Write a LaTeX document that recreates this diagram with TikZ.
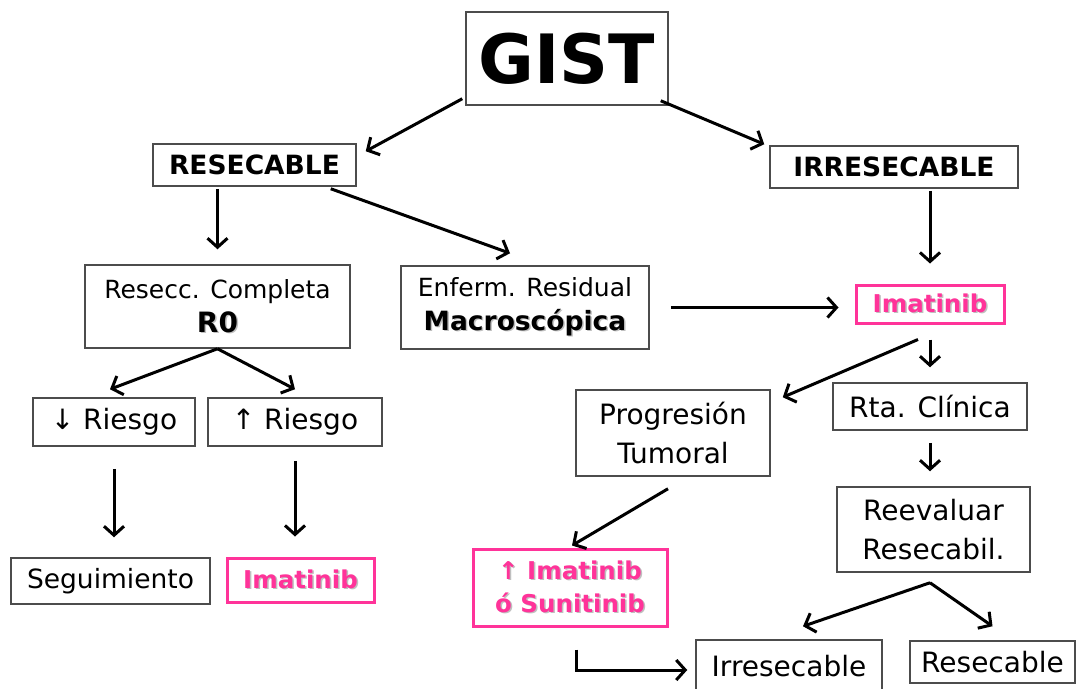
\documentclass[tikz,border=0pt]{standalone}
\usepackage{fontspec}
\setmainfont{DejaVu Sans}
\usetikzlibrary{arrows.meta}
\definecolor{rosa}{HTML}{FF3399}
% texto con sombra gris
\newcommand{\sombra}[1]{\leavevmode\rlap{\kern1.5pt\raisebox{-1.5pt}{\textcolor{black!25}{#1}}}#1}

\begin{document}
\begin{tikzpicture}[x=1pt,y=-1pt,
  caja/.style={draw=black!70,line width=1.5pt,inner sep=0pt,align=center},
  cajarosa/.style={draw=rosa,line width=3pt,inner sep=0pt,align=center,text=rosa,
    font=\bfseries\fontsize{24.5}{33}\selectfont},
  chico/.style={font=\fontsize{25}{37}\selectfont},
  grande/.style={font=\fontsize{28}{39}\selectfont},
  flecha/.style={line width=3pt,-{Straight Barb[length=9pt,width=20pt]}}]
  \useasboundingbox (0,0) rectangle (1084,688);

  % nivel 1 y 2
  \node[caja,minimum width=202pt,minimum height=93pt,font=\bfseries\fontsize{68}{68}\selectfont] (gist) at (567,58.5) {GIST};
  \node[caja,minimum width=203pt,minimum height=42pt,font=\bfseries\fontsize{26.5}{30}\selectfont] (res) at (254.5,165) {RESECABLE};
  \node[caja,minimum width=248pt,minimum height=42pt,font=\bfseries\fontsize{26.5}{30}\selectfont] (irr) at (894,167) {IRRESECABLE};

  % rama resecable
  \node[caja,chico,minimum width=265pt,minimum height=83pt] (rc) at (217.5,306.5)
    {Resecc. Completa\\[-3pt]{\bfseries\fontsize{28}{30}\selectfont\sombra{R0}}};
  \node[caja,chico,minimum width=248pt,minimum height=83pt] (er) at (525,307.5)
    {Enferm. Residual\\[-3pt]{\bfseries\fontsize{26.5}{30}\selectfont\sombra{Macroscópica}}};
  \node[caja,grande,minimum width=162pt,minimum height=48pt] (rdown) at (114,422) {↓ Riesgo};
  \node[caja,grande,minimum width=174pt,minimum height=48pt] (rup) at (295,422) {↑ Riesgo};
  \node[caja,font=\fontsize{26.5}{30}\selectfont,minimum width=199pt,minimum height=46pt] (seg) at (110.5,581) {Seguimiento};
  \node[cajarosa,minimum width=147pt,minimum height=44pt] (iml) at (300.5,580) {\sombra{Imatinib}};

  % rama irresecable
  \node[cajarosa,minimum width=148pt,minimum height=38pt] (imr) at (930,304) {\sombra{Imatinib}};
  \node[caja,grande,minimum width=194pt,minimum height=86pt] (prog) at (673,433) {Progresión\\Tumoral};
  \node[caja,grande,minimum width=194pt,minimum height=47pt] (rta) at (930,406.5) {Rta. Clínica};
  \node[caja,grande,minimum width=193pt,minimum height=85pt] (reev) at (933.5,529.5) {Reevaluar\\Resecabil.};
  \node[cajarosa,minimum width=194pt,minimum height=77pt] (ims) at (570,587.5)
    {\sombra{↑ Imatinib}\\\sombra{ó Sunitinib}};
  \node[caja,grande,minimum width=186pt,minimum height=52pt] (irr2) at (789,666) {Irresecable};
  \node[caja,grande,minimum width=165pt,minimum height=42pt] (res2) at (992.5,662) {Resecable};

  % flechas
  \draw[flecha] ([xshift=-3pt,yshift=7pt]gist.south west) -- ([xshift=9pt,yshift=-8pt]res.north east);
  \draw[flecha] ([xshift=-8pt,yshift=5pt]gist.south east) -- ([xshift=-5pt,yshift=1pt]irr.north west);
  \draw[flecha,shorten <=2pt,shorten >=15pt] (res.south -| rc.north) -- (rc.north);
  \draw[flecha] ([xshift=-26pt,yshift=-2pt]res.south east) -- ([xshift=-15pt,yshift=12pt]er.north);
  \draw[flecha,shorten <=2pt,shorten >=20pt] (irr.south -| imr.north) -- (imr.north);
  \draw[flecha,shorten <=21pt,shorten >=16pt] (er.east) -- (er.east -| imr.west);
  \draw[flecha] (rc.south) -- ([xshift=-4pt,yshift=8pt]rdown.north);
  \draw[flecha] (rc.south) -- ([yshift=8pt]rup.north);
  \draw[flecha,shorten <=22pt,shorten >=20pt] (rdown.south) -- (rdown.south |- seg.north);
  \draw[flecha,shorten <=14pt,shorten >=20pt] (rup.south) -- (rup.south |- iml.north);
  \draw[flecha] ([xshift=-12pt,yshift=-15pt]imr.south) -- ([xshift=12pt,yshift=-8pt]prog.north east);
  \draw[flecha,shorten <=15pt,shorten >=15pt] (imr.south) -- (imr.south |- rta.north);
  \draw[flecha,shorten <=12pt,shorten >=15pt] (rta.south) -- (rta.south |- reev.north);
  \draw[flecha] ([xshift=-5pt,yshift=-12pt]prog.south) -- ([xshift=2pt,yshift=2pt]ims.north);
  \coordinate (cumbre) at ([xshift=-3.5pt,yshift=-10pt]reev.south);
  \draw[flecha] (cumbre) -- ([xshift=14pt,yshift=13pt]irr2.north);
  \draw[flecha] (cumbre) -- ([yshift=14pt]res2.north);
  \draw[flecha] ([xshift=6pt,yshift=-22pt]ims.south) |- ([xshift=-8pt,yshift=-4pt]irr2.west);
\end{tikzpicture}
\end{document}
